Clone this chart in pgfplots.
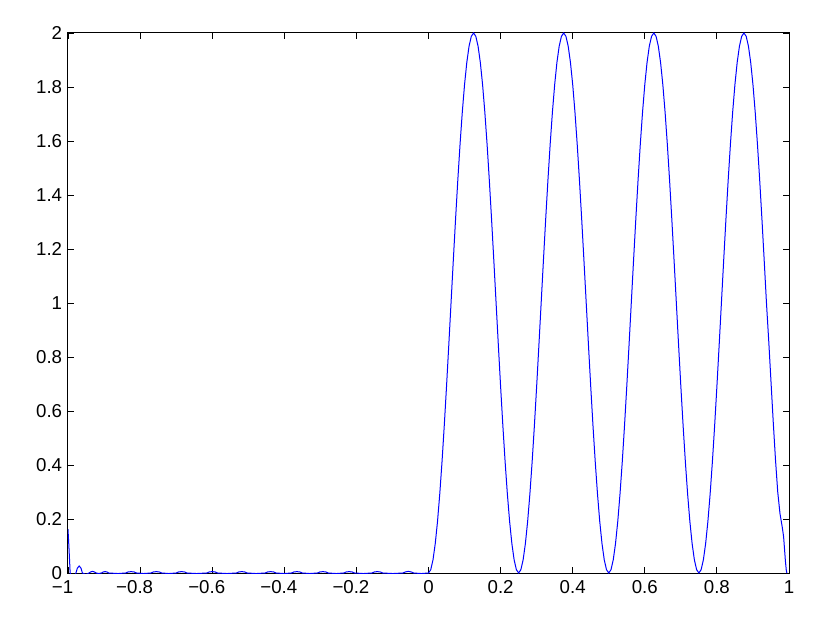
\documentclass[border=0pt]{standalone}
\usepackage{fontspec}
\setmainfont{Liberation Sans}
\usepackage{pgfplots}
\pgfplotsset{compat=1.18}

\begin{document}
\begin{tikzpicture}
\begin{axis}[
  scale only axis,
  width=432.6pt,
  height=324pt,
  xmin=-1, xmax=1,
  ymin=0, ymax=2,
  xtick={-1,-0.8,-0.6,-0.4,-0.2,0,0.2,0.4,0.6,0.8,1},
  xticklabels={\llap{−}1,\llap{−}0.8,\llap{−}0.6,\llap{−}0.4,\llap{−}0.2,0,0.2,0.4,0.6,0.8,1},
  ytick={0,0.2,0.4,0.6,0.8,1,1.2,1.4,1.6,1.8,2},
  yticklabels={0,0.2,0.4,0.6,0.8,1,1.2,1.4,1.6,1.8,2},
  tick align=inside,
  tick pos=both,
  major tick length=3.6pt,
  every tick/.style={black, line width=0.5pt},
  axis line style={line width=0.6pt},
  tick label style={font=\fontsize{11.2}{13}\selectfont},
  xticklabel style={yshift=-1pt},
]
% left part: small ripples, negative parts hidden below the axis
\addplot[blue, line width=0.6pt] coordinates {
  (-1,0.162) (-0.997,0.085) (-0.994,0) (-0.986,-0.03) (-0.978,0)
  (-0.974,0.018) (-0.969,0.026) (-0.964,0.018) (-0.960,0) (-0.951,-0.006)
  (-0.942,0) (-0.937,0.004) (-0.932,0.006) (-0.927,0.004) (-0.922,0) (-0.915,-0.002)
  (-0.907,0) (-0.902,0.004) (-0.897,0.005) (-0.892,0.004) (-0.887,0) (-0.861,-0.002)
  (-0.840,0) (-0.833,0.004) (-0.825,0.005) (-0.817,0.004) (-0.810,0) (-0.790,-0.002)
  (-0.770,0) (-0.763,0.004) (-0.755,0.005) (-0.747,0.004) (-0.740,0) (-0.720,-0.002)
  (-0.700,0) (-0.693,0.004) (-0.685,0.005) (-0.677,0.004) (-0.670,0) (-0.643,-0.002)
  (-0.615,0) (-0.608,0.004) (-0.600,0.005) (-0.592,0.004) (-0.585,0) (-0.559,-0.002)
  (-0.533,0) (-0.526,0.004) (-0.518,0.005) (-0.510,0.004) (-0.503,0) (-0.478,-0.002)
  (-0.453,0) (-0.446,0.004) (-0.438,0.005) (-0.430,0.004) (-0.423,0) (-0.401,-0.002)
  (-0.380,0) (-0.373,0.004) (-0.365,0.005) (-0.357,0.004) (-0.350,0) (-0.329,-0.002)
  (-0.308,0) (-0.301,0.004) (-0.293,0.005) (-0.285,0.004) (-0.278,0) (-0.256,-0.002)
  (-0.235,0) (-0.228,0.004) (-0.220,0.005) (-0.212,0.004) (-0.205,0) (-0.181,-0.002)
  (-0.157,0) (-0.150,0.004) (-0.142,0.005) (-0.134,0.004) (-0.127,0) (-0.099,-0.002)
  (-0.071,0) (-0.064,0.004) (-0.056,0.006) (-0.048,0.004) (-0.041,0) (-0.020,-0.002)
  % right part: four humps
  (0,0) (0.00625,0.0123) (0.0125,0.0489) (0.01875,0.1090) (0.025,0.1910)
  (0.03125,0.2929) (0.0375,0.4122) (0.04375,0.5460) (0.05,0.6910) (0.05625,0.8436)
  (0.0625,1) (0.06875,1.1564) (0.075,1.3090) (0.08125,1.4540) (0.0875,1.5878)
  (0.09375,1.7071) (0.1,1.8090) (0.10625,1.8910) (0.1125,1.9511) (0.11875,1.9877)
  (0.125,2) (0.13125,1.9877) (0.1375,1.9511) (0.14375,1.8910) (0.15,1.8090)
  (0.15625,1.7071) (0.1625,1.5878) (0.16875,1.4540) (0.175,1.3090) (0.18125,1.1564)
  (0.1875,1) (0.19375,0.8436) (0.2,0.6910) (0.20625,0.5460) (0.2125,0.4122)
  (0.21875,0.2929) (0.225,0.1910) (0.23125,0.1090) (0.2375,0.0489) (0.24375,0.0123)
  (0.25,0) (0.25625,0.0123) (0.2625,0.0489) (0.26875,0.1090) (0.275,0.1910)
  (0.28125,0.2929) (0.2875,0.4122) (0.29375,0.5460) (0.3,0.6910) (0.30625,0.8436)
  (0.3125,1) (0.31875,1.1564) (0.325,1.3090) (0.33125,1.4540) (0.3375,1.5878)
  (0.34375,1.7071) (0.35,1.8090) (0.35625,1.8910) (0.3625,1.9511) (0.36875,1.9877)
  (0.375,2) (0.38125,1.9877) (0.3875,1.9511) (0.39375,1.8910) (0.4,1.8090)
  (0.40625,1.7071) (0.4125,1.5878) (0.41875,1.4540) (0.425,1.3090) (0.43125,1.1564)
  (0.4375,1) (0.44375,0.8436) (0.45,0.6910) (0.45625,0.5460) (0.4625,0.4122)
  (0.46875,0.2929) (0.475,0.1910) (0.48125,0.1090) (0.4875,0.0489) (0.49375,0.0123)
  (0.5,0) (0.50625,0.0123) (0.5125,0.0489) (0.51875,0.1090) (0.525,0.1910)
  (0.53125,0.2929) (0.5375,0.4122) (0.54375,0.5460) (0.55,0.6910) (0.55625,0.8436)
  (0.5625,1) (0.56875,1.1564) (0.575,1.3090) (0.58125,1.4540) (0.5875,1.5878)
  (0.59375,1.7071) (0.6,1.8090) (0.60625,1.8910) (0.6125,1.9511) (0.61875,1.9877)
  (0.625,2) (0.63125,1.9877) (0.6375,1.9511) (0.64375,1.8910) (0.65,1.8090)
  (0.65625,1.7071) (0.6625,1.5878) (0.66875,1.4540) (0.675,1.3090) (0.68125,1.1564)
  (0.6875,1) (0.69375,0.8436) (0.7,0.6910) (0.70625,0.5460) (0.7125,0.4122)
  (0.71875,0.2929) (0.725,0.1910) (0.73125,0.1090) (0.7375,0.0489) (0.74375,0.0123)
  (0.75,0) (0.75625,0.0123) (0.7625,0.0489) (0.76875,0.1090) (0.775,0.1910)
  (0.78125,0.2929) (0.7875,0.4122) (0.79375,0.5460) (0.8,0.6910) (0.80625,0.8436)
  (0.8125,1) (0.81875,1.1564) (0.825,1.3090) (0.83125,1.4540) (0.8375,1.5878)
  (0.84375,1.7071) (0.85,1.8090) (0.85625,1.8910) (0.8625,1.9511) (0.86875,1.9877)
  (0.875,2) (0.88125,1.9877) (0.8875,1.9511) (0.89375,1.8910) (0.9,1.8090)
  (0.90625,1.7071) (0.9125,1.5878) (0.91875,1.4540) (0.925,1.3090) (0.93125,1.1564)
  (0.9375,1) (0.94375,0.86) (0.95,0.71) (0.95625,0.56) (0.9625,0.42)
  (0.96875,0.30) (0.975,0.22) (0.98125,0.17) (0.985,0.135) (0.9875,0.09)
  (0.99,0.045) (0.9925,0.01) (0.994,0)
};
\end{axis}
\path[use as bounding box]
  ([xshift=-40.8pt,yshift=-31.2pt]current axis.south west)
  rectangle ([xshift=24.6pt,yshift=19.8pt]current axis.north east);
\end{tikzpicture}
\end{document}
